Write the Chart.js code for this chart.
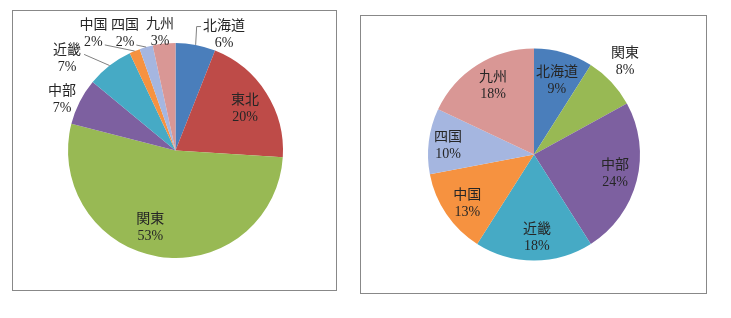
<!DOCTYPE html>
<html>
<head>
<meta charset="utf-8">
<script src="https://cdn.jsdelivr.net/npm/chart.js@4/dist/chart.umd.min.js"></script>
<style>
    body { margin: 0; background: #fff; width: 731px; height: 318px; position: relative; overflow: hidden; }
    .box { position: absolute; box-sizing: border-box; border: 1px solid #888; background: #fff; }
    .box canvas { display: block; }
    #box-left { left: 12px; top: 10px; width: 325px; height: 281px; }
    #box-right { left: 360px; top: 15px; width: 347px; height: 279px; }
</style>
</head>
<body>
<div class="box" id="box-left"><canvas id="pie-left" width="323" height="279"></canvas></div>
<div class="box" id="box-right"><canvas id="pie-right" width="345" height="277"></canvas></div>
<script>
// regions, same order in both charts
const regions = ['北海道', '東北', '関東', '中部', '近畿', '中国', '四国', '九州'];

// left chart (percent)
const leftValues = [6, 20, 53, 7, 7, 1.6, 2, 3.4];
// right chart (percent), 東北 has no share
const rightValues = [9, 0, 8, 24, 18, 13, 10, 18];

const sliceColors = ['#4a7ebb', '#be4b48', '#98b954', '#7d60a0', '#46aac5', '#f69240', '#a5b6e0', '#d99795'];

// label placement: f = distance as share of radius, turn = degrees added to slice middle
const leftLabelPos = [
    { f: 1.165, turn: 12, leader: 'elbow' },
    { f: 0.755, turn: 1.3 },
    { f: 0.76, turn: 9 },
    { f: 1.155, turn: -3 },
    { f: 1.32, turn: -12, leader: 'name-right' },
    { f: 1.33, turn: -12.7, leader: 'pct-right' },
    { f: 1.185, turn: -7.5, leader: 'pct-right' },
    { f: 1.1, turn: -1.4 }
];
const rightLabelPos = [
    { f: 0.73, turn: 1 },
    { f: 0, turn: 0 },
    { f: 1.225, turn: -2.3 },
    { f: 0.785, turn: -1.2 },
    { f: 0.79, turn: -2 },
    { f: 0.78, turn: -2 },
    { f: 0.815, turn: -1.6 },
    { f: 0.757, turn: 1.7 }
];

const labelFont = '14px "Liberation Serif", "Noto Sans CJK JP", serif';
const lineGap = 17;

const pieLabels = {
    id: 'pieLabels',
    afterDatasetsDraw(chart, args, opts) {
        const ctx = chart.ctx;
        const meta = chart.getDatasetMeta(0);
        const values = chart.data.datasets[0].data;
        const total = values.reduce((a, b) => a + b, 0);
        ctx.save();
        ctx.font = labelFont;
        ctx.fillStyle = '#262626';
        ctx.strokeStyle = '#808080';
        ctx.lineWidth = 1;
        ctx.textAlign = 'center';
        ctx.textBaseline = 'middle';
        meta.data.forEach((arc, i) => {
            if (!values[i]) return;
            const pos = opts.positions[i];
            const mid = (arc.startAngle + arc.endAngle) / 2;
            const a = mid + pos.turn * Math.PI / 180;
            const r = arc.outerRadius;
            const cx = arc.x + Math.cos(a) * r * pos.f;
            const cy = arc.y + Math.sin(a) * r * pos.f;
            const name = chart.data.labels[i];
            const pct = Math.round(values[i] / total * 100) + '%';
            const nameY = cy - lineGap / 2;
            const pctY = cy + lineGap / 2;
            ctx.fillText(name, cx, nameY);
            ctx.fillText(pct, cx, pctY);

            if (pos.leader) {
                const ex = arc.x + Math.cos(mid) * r;
                const ey = arc.y + Math.sin(mid) * r;
                const nameW = ctx.measureText(name).width;
                const pctW = ctx.measureText(pct).width;
                ctx.beginPath();
                ctx.moveTo(ex, ey);
                if (pos.leader === 'elbow') {
                    ctx.lineTo(ex + 1, nameY);
                    ctx.lineTo(cx - nameW / 2 - 2, nameY);
                } else if (pos.leader === 'name-right') {
                    ctx.lineTo(cx + nameW / 2 + 3, nameY + 4);
                } else {
                    ctx.lineTo(cx + pctW / 2 + 2, pctY + 3);
                }
                ctx.stroke();
            }
        });
        ctx.restore();
    }
};

function makePie(canvasId, values, positions, padding) {
    return new Chart(document.getElementById(canvasId), {
        type: 'pie',
        data: {
            labels: regions,
            datasets: [{
                data: values,
                backgroundColor: sliceColors,
                borderWidth: 0,
                hoverOffset: 0
            }]
        },
        options: {
            responsive: false,
            animation: false,
            devicePixelRatio: 1,
            layout: { padding: padding },
            plugins: {
                legend: { display: false },
                tooltip: { enabled: false },
                pieLabels: { positions: positions }
            }
        },
        plugins: [pieLabels]
    });
}

makePie('pie-left', leftValues, leftLabelPos, { top: 32, bottom: 32, left: 55, right: 53 });
makePie('pie-right', rightValues, rightLabelPos, { top: 32.5, bottom: 32.5, left: 67, right: 66 });
</script>
</body>
</html>
